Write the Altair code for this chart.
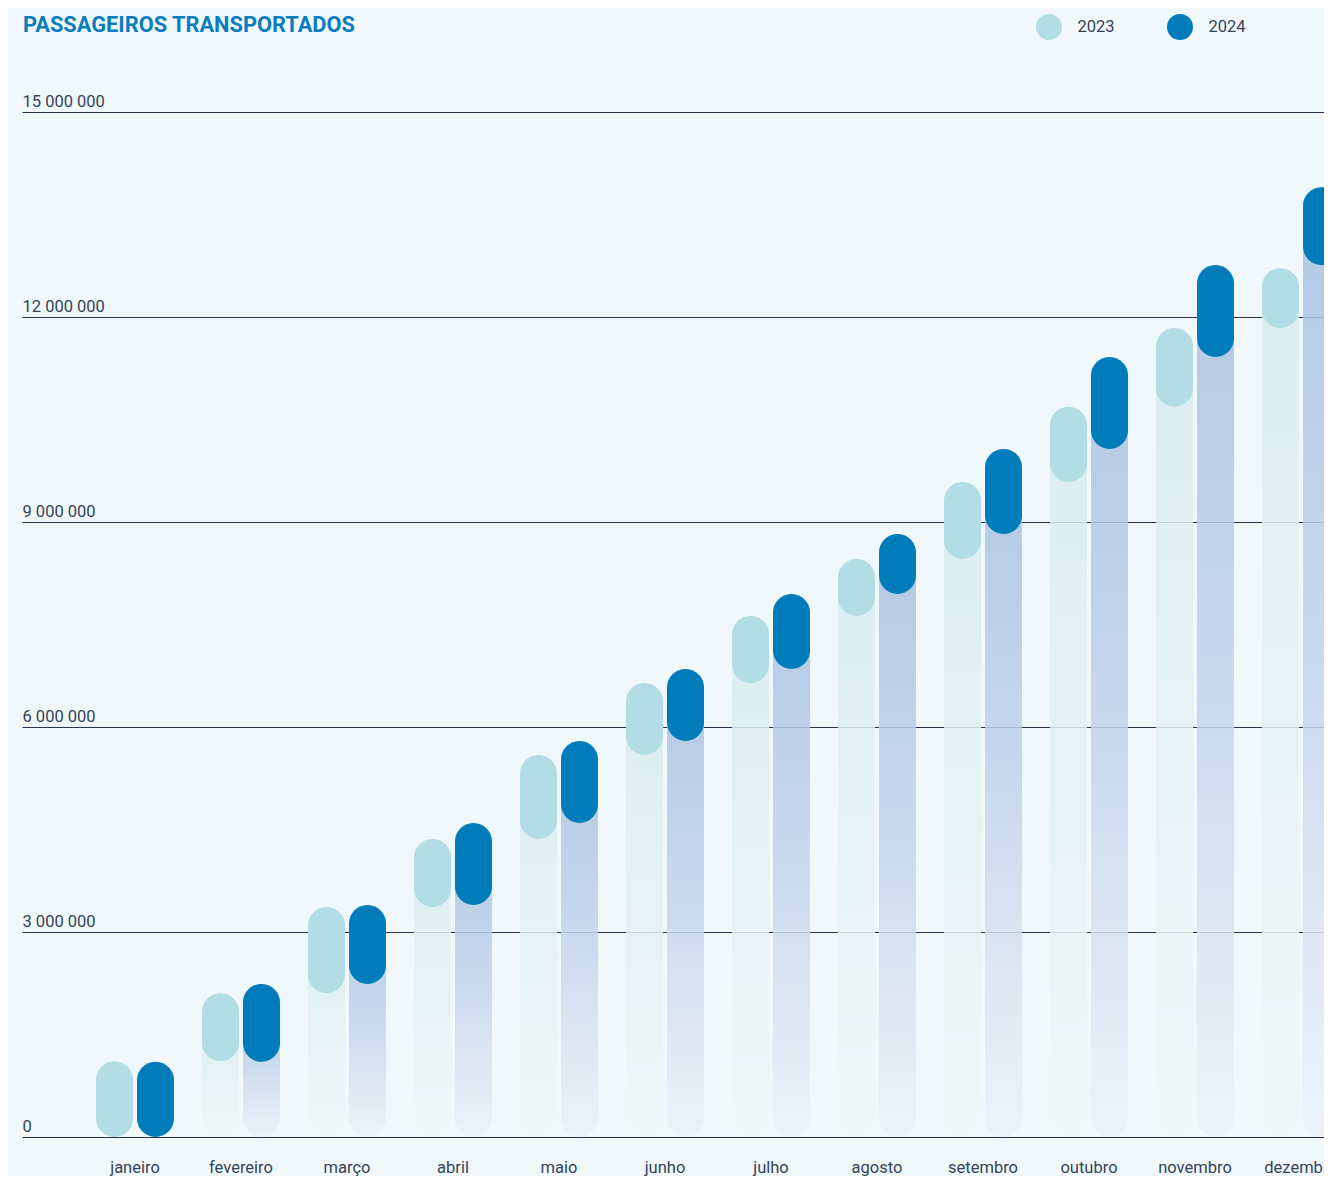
import altair as alt
import pandas as pd

meses = ["janeiro", "fevereiro", "março", "abril", "maio", "junho",
         "julho", "agosto", "setembro", "outubro", "novembro", "dezembro"]
anos = ["2023", "2024"]
acum_2023 = [1110000, 2105000, 3365000, 4360000, 5590000, 6645000,
             7625000, 8460000, 9585000, 10685000, 11840000, 12715000]
acum_2024 = [1100000, 2240000, 3395000, 4595000, 5795000, 6850000,
             7945000, 8825000, 10070000, 11415000, 12760000, 13900000]
eixo_y = [0, 3000000, 6000000, 9000000, 12000000, 15000000]
cores = ["#b2dde4", "#007cba"]

rows = []
for ano, serie in zip(anos, [acum_2023, acum_2024]):
    prev = 0
    for m, v in zip(meses, serie):
        rows.append({"mes": m, "ano": ano, "inicio": prev, "acumulado": v})
        prev = v
df = pd.DataFrame(rows)

BG = "#f1f8fb"
TXT = "#34435a"

x_enc = alt.X(
    "mes:N", sort=meses,
    scale=alt.Scale(range=[0, 1392], paddingInner=0, paddingOuter=60 / 106),
    axis=alt.Axis(title=None, ticks=False, domain=False, grid=False, labelAngle=0,
                  labelPadding=22, labelFontSize=16.5, labelColor=TXT, labelFont="Roboto"),
)
xo_enc = alt.XOffset("ano:N", scale=alt.Scale(domain=anos, paddingInner=0, paddingOuter=12 / 41))
y_scale = alt.Scale(domain=[0, 15000000], nice=False)
y_axis = alt.Axis(
    values=eixo_y, title=None, ticks=False, domain=False, grid=True,
    gridColor="#26354d", gridWidth=1, gridOpacity=1,
    labelAlign="left", labelPadding=0, labelOffset=-6, labelBaseline="alphabetic",
    labelFontSize=16.5, labelColor=TXT, labelFont="Roboto",
    labelExpr="replace(format(datum.value, ','), regexp(',', 'g'), ' ')",
)


def grad(top, mid, bottom):
    return alt.Gradient(
        gradient="linear",
        stops=[alt.GradientStop(color=top, offset=0),
               alt.GradientStop(color=mid, offset=0.55),
               alt.GradientStop(color=bottom, offset=1)],
        x1=0, x2=0, y1=0, y2=1,
    )


base = alt.Chart(df)

bg23 = base.transform_filter(alt.datum.ano == "2023").mark_bar(
    width=37, cornerRadius=18.5, opacity=0.85,
    color=grad("#d6ebf0", "#e3f2f3", "#f0f7f9"),
).encode(x=x_enc, xOffset=xo_enc,
         y=alt.Y("acumulado:Q", scale=y_scale, axis=y_axis))

bg24 = base.transform_filter(alt.datum.ano == "2024").mark_bar(
    width=37, cornerRadius=18.5, opacity=0.85,
    color=grad("#a6bfdf", "#c6d7ec", "#ecf2f8"),
).encode(x=x_enc, xOffset=xo_enc,
         y=alt.Y("acumulado:Q", scale=y_scale, axis=y_axis))

pills = base.mark_bar(width=37, cornerRadius=18.5, opacity=1).encode(
    x=x_enc, xOffset=xo_enc,
    y=alt.Y("inicio:Q", scale=y_scale, axis=y_axis),
    y2="acumulado:Q",
    color=alt.Color(
        "ano:N", scale=alt.Scale(domain=anos, range=cores),
        legend=alt.Legend(
            orient="none", legendX=1014, legendY=-98, direction="horizontal",
            title=None, symbolType="circle", symbolSize=676, symbolStrokeWidth=0,
            symbolOpacity=1, labelFontSize=16.5, labelColor=TXT, labelOffset=15.5,
            columnPadding=52, labelFont="Roboto",
        ),
    ),
)

chart = alt.layer(bg23, bg24, pills).properties(
    width=1302, height=1025,
    padding={"left": 14, "top": 104, "right": 0, "bottom": 39},
    autosize=alt.AutoSizeParams(type="none"),
    background=BG,
    title=alt.TitleParams(
        "PASSAGEIROS TRANSPORTADOS", anchor="start", font="Roboto", fontSize=21.8,
        fontWeight="bold", color="#0b7dbf", offset=0, baseline="alphabetic", dy=40, dx=1,
    ),
).configure_view(stroke=None)

chart.save("out.html", embed_options={"renderer": "svg", "actions": False})
